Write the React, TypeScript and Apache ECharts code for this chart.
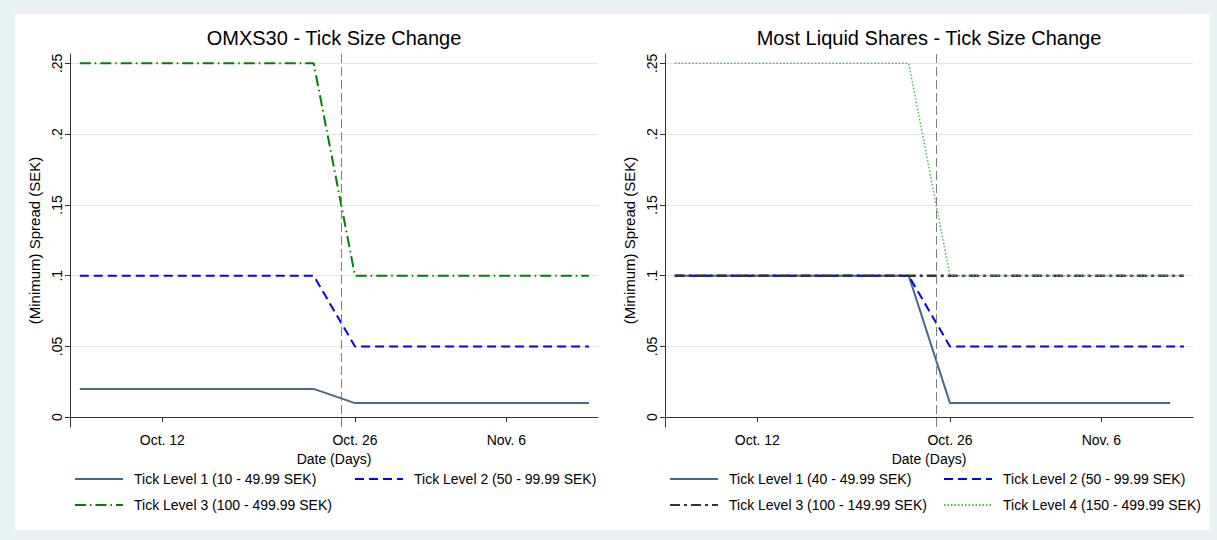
import React, { useEffect, useRef } from "react";
import * as echarts from "echarts";

// ---- data ----
const panelTitles = ["OMXS30 - Tick Size Change", "Most Liquid Shares - Tick Size Change"];
const yAxisTitle = "(Minimum) Spread (SEK)";
const xAxisTitle = "Date (Days)";

const omxDates = ["2009-10-06", "2009-10-23", "2009-10-26", "2009-11-12"];
const omxLevel1 = [0.02, 0.02, 0.01, 0.01];
const omxLevel2 = [0.1, 0.1, 0.05, 0.05];
const omxLevel3 = [0.25, 0.25, 0.1, 0.1];
const omxNames = [
  "Tick Level 1 (10 - 49.99 SEK)",
  "Tick Level 2 (50 - 99.99 SEK)",
  "Tick Level 3 (100 - 499.99 SEK)",
];

const liqLevel1Dates = ["2009-10-06", "2009-10-23", "2009-10-26", "2009-11-11"];
const liqDates = ["2009-10-06", "2009-10-23", "2009-10-26", "2009-11-12"];
const liqLevel1 = [0.1, 0.1, 0.01, 0.01];
const liqLevel2 = [0.1, 0.1, 0.05, 0.05];
const liqLevel3 = [0.1, 0.1, 0.1, 0.1];
const liqLevel4 = [0.25, 0.25, 0.1, 0.1];
const liqNames = [
  "Tick Level 1 (40 - 49.99 SEK)",
  "Tick Level 2 (50 - 99.99 SEK)",
  "Tick Level 3 (100 - 149.99 SEK)",
  "Tick Level 4 (150 - 499.99 SEK)",
];

const eventDate = "2009-10-25";
const xTickDates = ["2009-10-12", "2009-10-26", "2009-11-06"];
const xTickLabels = ["Oct. 12", "Oct. 26", "Nov. 6"];
const yTickValues = [0, 0.05, 0.1, 0.15, 0.2, 0.25];
const yTickLabels = ["0", ".05", ".1", ".15", ".2", ".25"];

// ---- helpers ----
const DAY = 86400000;
const ts = (d: string) => {
  const [y, m, dd] = d.split("-").map(Number);
  return Date.UTC(y, m - 1, dd);
};
const pts = (dates: string[], vals: number[]) => dates.map((d, i) => [ts(d), vals[i]]);

const FONT = "Liberation Sans, Arial, Helvetica, sans-serif";
const AXIS_COLOR = "#333";

export default function App() {
  const ref = useRef<HTMLDivElement>(null);
  useEffect(() => {
    if (!ref.current) return;
    const chart = echarts.init(ref.current, undefined, { renderer: "svg" });

    const xMin = ts("2009-10-05") + 0.29 * DAY;
    const xMax = ts("2009-11-12") + 0.66 * DAY;
    const xTickTs = xTickDates.map(ts);

    const grids = [
      { left: 70, top: 54, width: 528, height: 373 },
      { left: 665, top: 54, width: 528, height: 373 },
    ];

    const xAxes = grids.map((_, i) => ({
      type: "value",
      gridIndex: i,
      min: xMin,
      max: xMax,
      name: xAxisTitle,
      nameLocation: "middle",
      nameGap: 23,
      nameTextStyle: { fontFamily: FONT, fontSize: 14, color: "#000" },
      axisLine: { show: true, lineStyle: { color: AXIS_COLOR, width: 1 } },
      axisTick: { show: true, length: 5, customValues: xTickTs, lineStyle: { color: AXIS_COLOR } },
      axisLabel: {
        customValues: xTickTs,
        margin: 6,
        fontFamily: FONT,
        fontSize: 14,
        color: "#000",
        formatter: (v: number) => {
          const idx = xTickTs.findIndex((t) => Math.abs(t - v) < DAY / 2);
          return idx >= 0 ? xTickLabels[idx] : "";
        },
      },
      splitLine: { show: false },
    }));

    const yAxes = grids.map((_, i) => ({
      type: "value",
      gridIndex: i,
      min: -0.0069,
      max: 0.2566,
      name: yAxisTitle,
      nameLocation: "middle",
      nameRotate: 90,
      nameGap: 28,
      nameTextStyle: { fontFamily: FONT, fontSize: 15, color: "#000" },
      axisLine: { show: true, lineStyle: { color: AXIS_COLOR, width: 1 } },
      axisTick: { show: true, length: 5, customValues: yTickValues, lineStyle: { color: AXIS_COLOR } },
      axisLabel: {
        customValues: yTickValues,
        rotate: 90,
        margin: 6,
        fontFamily: FONT,
        fontSize: 14,
        color: "#000",
        formatter: (v: number) => {
          const idx = yTickValues.findIndex((t) => Math.abs(t - v) < 1e-6);
          return idx >= 0 ? yTickLabels[idx] : "";
        },
      },
      splitLine: { show: true, lineStyle: { color: "#e4e4e4", width: 1 } },
    }));

    const vline = {
      silent: true,
      symbol: ["none", "none"],
      label: { show: false },
      lineStyle: { color: "#808080", type: [9, 4], width: 1 },
      data: [{ xAxis: ts(eventDate) }],
    };

    const mk = (name: string, idx: number, data: number[][], color: string, width: number, type: any, extra: any = {}) => ({
      type: "line",
      name,
      xAxisIndex: idx,
      yAxisIndex: idx,
      data,
      symbol: "none",
      showSymbol: false,
      lineStyle: { color, width, type },
      itemStyle: { color },
      ...extra,
    });

    const NAVY = "#46688a";
    const series = [
      mk(omxNames[0], 0, pts(omxDates, omxLevel1), NAVY, 2, "solid", { markLine: vline }),
      mk(omxNames[1], 0, pts(omxDates, omxLevel2), "#0000ff", 2, [9, 5]),
      mk(omxNames[2], 0, pts(omxDates, omxLevel3), "#008000", 2, [11, 4, 1.5, 4]),
      mk(liqNames[0] + " ", 1, pts(liqLevel1Dates, liqLevel1), NAVY, 2, "solid", { markLine: vline }),
      mk(liqNames[1] + " ", 1, pts(liqDates, liqLevel2), "#0000ff", 2, [9, 5]),
      mk(liqNames[2], 1, pts(liqDates, liqLevel3), "#333333", 2.5, [10, 4, 3, 4]),
      mk(liqNames[3], 1, pts(liqDates, liqLevel4), "#4cbb4c", 1.5, [1.5, 2]),
    ];

    const legendItem = (name: string, left: number, top: number) => ({
      data: [name],
      left,
      top,
      orient: "horizontal",
      itemWidth: 48,
      itemHeight: 14,
      padding: 0,
      selectedMode: false,
      itemStyle: { opacity: 0, borderWidth: 0 },
      textStyle: { fontFamily: FONT, fontSize: 14, color: "#000", padding: [0, 0, 0, 6] },
    });

    const row1 = 472;
    const row2 = 498;
    const legends = [
      legendItem(omxNames[0], 74, row1),
      legendItem(omxNames[1], 354, row1),
      legendItem(omxNames[2], 74, row2),
      legendItem(liqNames[0] + " ", 669, row1),
      legendItem(liqNames[1] + " ", 943, row1),
      legendItem(liqNames[2], 669, row2),
      legendItem(liqNames[3], 943, row2),
    ];

    chart.setOption({
      animation: false,
      backgroundColor: "#eaf1f3",
      graphic: {
        elements: [
          {
            type: "rect",
            z: -10,
            silent: true,
            shape: { x: 15, y: 14, width: 1195, height: 516 },
            style: { fill: "#ffffff" },
          },
        ],
      },
      title: panelTitles.map((t, i) => ({
        text: t,
        left: grids[i].left + grids[i].width / 2,
        textAlign: "center",
        top: 28,
        padding: 0,
        textStyle: { fontFamily: FONT, fontSize: 20, fontWeight: "normal", color: "#000" },
      })),
      grid: grids,
      xAxis: xAxes,
      yAxis: yAxes,
      legend: legends,
      series,
    });

    return () => chart.dispose();
  }, []);

  return (
    <div
      ref={ref}
      style={{ position: "fixed", left: 0, top: 0, width: 1217, height: 540 }}
    />
  );
}
